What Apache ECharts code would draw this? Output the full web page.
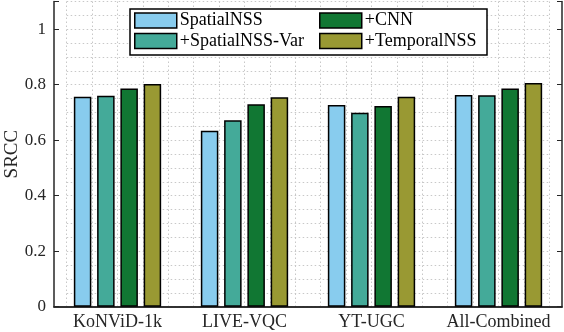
<!DOCTYPE html>
<html>
<head>
<meta charset="utf-8">
<script src="https://cdn.jsdelivr.net/npm/echarts@6/dist/echarts.min.js"></script>
<style>
	html, body { margin: 0; padding: 0; background: #fff; }
	#chart { width: 564px; height: 332px; }
</style>
</head>
<body>
<div id="chart"></div>
<script>
// 数据
const categories = ['KoNViD-1k', 'LIVE-VQC', 'YT-UGC', 'All-Combined'];
const seriesNames = ['SpatialNSS', '+SpatialNSS-Var', '+CNN', '+TemporalNSS'];
const spatialNSS = [0.757, 0.634, 0.727, 0.763];
const spatialNSSVar = [0.760, 0.672, 0.699, 0.762];
const cnn = [0.786, 0.730, 0.723, 0.786];
const temporalNSS = [0.803, 0.755, 0.757, 0.806];
const yTicks = [0, 0.2, 0.4, 0.6, 0.8, 1];

const colors = ['#88CCEE', '#44AA99', '#117733', '#999933'];
const font = '"Liberation Serif", "DejaVu Serif", serif';
const axisColor = '#262626';
const gridStyle = { color: '#c8c8c8', type: [1.5, 2.5], width: 1 };

let myChart = echarts.init(document.getElementById('chart'));

function barSeries(name, data, color) {
	return {
		name: name,
		type: 'bar',
		xAxisIndex: 0,
		yAxisIndex: 0,
		data: data,
		barWidth: 17.5,
		barGap: '33%',
		z: 3,
		itemStyle: { color: color, borderColor: '#000', borderWidth: 1.5 }
	};
}

const legendBase = {
	orient: 'vertical',
	top: 11.5,
	itemWidth: 42,
	itemHeight: 15,
	itemGap: 2.5,
	padding: 0,
	z: 10,
	icon: 'rect',
	itemStyle: { borderColor: '#000', borderWidth: 1.5 },
	textStyle: { fontFamily: font, fontSize: 18, color: '#000', padding: [0, 0, 0, -2] }
};

myChart.setOption({
	animation: false,
	color: colors,
	grid: [
		{ left: 54, right: 2, top: 1.5, bottom: 25.3, outerBoundsMode: 'none' },
		// 网格辅助线
		{ left: 66.7, right: 14.7, top: 1.5, bottom: 25.3, outerBoundsMode: 'none' }
	],
	legend: [
		Object.assign({}, legendBase, { left: 134, data: [seriesNames[0], seriesNames[1]] }),
		Object.assign({}, legendBase, { left: 319, data: [seriesNames[2], seriesNames[3]] })
	],
	graphic: [{
		type: 'rect',
		z: 9,
		shape: { x: 130, y: 9, width: 357, height: 46 },
		style: { fill: '#fff', stroke: '#000', lineWidth: 1.5 }
	}],
	xAxis: [
		{
			type: 'category',
			gridIndex: 0,
			data: categories,
			position: 'bottom',
			axisLine: { lineStyle: { color: axisColor, width: 1.5 } },
			axisTick: { inside: true, alignWithLabel: true, length: 5, lineStyle: { color: axisColor } },
			axisLabel: { interval: 0, fontFamily: font, fontSize: 18, color: axisColor, margin: 7 },
			splitLine: { show: false }
		},
		{
			type: 'category',
			gridIndex: 0,
			data: categories,
			position: 'top',
			axisLine: { lineStyle: { color: axisColor, width: 1.5 } },
			axisTick: { inside: true, alignWithLabel: true, length: 5, lineStyle: { color: axisColor } },
			axisLabel: { show: false },
			splitLine: { show: false }
		},
		{
			type: 'value',
			gridIndex: 1,
			min: 0,
			max: 3.8,
			interval: 0.2,
			axisLine: { show: false },
			axisTick: { show: false },
			axisLabel: { show: false },
			splitLine: { show: true, lineStyle: gridStyle }
		}
	],
	yAxis: [
		{
			type: 'value',
			gridIndex: 0,
			min: 0,
			max: 1.1,
			interval: 0.2,
			position: 'left',
			name: 'SRCC',
			nameLocation: 'middle',
			nameGap: 32,
			nameMoveOverlap: false,
			nameTextStyle: { fontFamily: font, fontSize: 19, color: axisColor },
			axisLine: { show: true, lineStyle: { color: axisColor, width: 1.5 } },
			axisTick: { show: true, inside: true, length: 5, lineStyle: { color: axisColor } },
			axisLabel: {
				fontFamily: font, fontSize: 17, color: axisColor, margin: 8,
				formatter: v => yTicks.some(t => Math.abs(t - v) < 1e-6) ? String(Math.round(v * 10) / 10) : ''
			},
			splitLine: { show: false }
		},
		{
			type: 'value',
			gridIndex: 0,
			min: 0,
			max: 1.1,
			interval: 0.2,
			position: 'right',
			axisLine: { show: true, lineStyle: { color: axisColor, width: 1.5 } },
			axisTick: { show: true, inside: true, length: 5, lineStyle: { color: axisColor } },
			axisLabel: { show: false },
			splitLine: { show: false }
		},
		{
			type: 'value',
			gridIndex: 1,
			min: 0,
			max: 1.1,
			interval: 0.05,
			axisLine: { show: false },
			axisTick: { show: false },
			axisLabel: { show: false },
			splitLine: { show: true, lineStyle: gridStyle }
		}
	],
	series: [
		barSeries(seriesNames[0], spatialNSS, colors[0]),
		barSeries(seriesNames[1], spatialNSSVar, colors[1]),
		barSeries(seriesNames[2], cnn, colors[2]),
		barSeries(seriesNames[3], temporalNSS, colors[3])
	]
});
</script>
</body>
</html>
